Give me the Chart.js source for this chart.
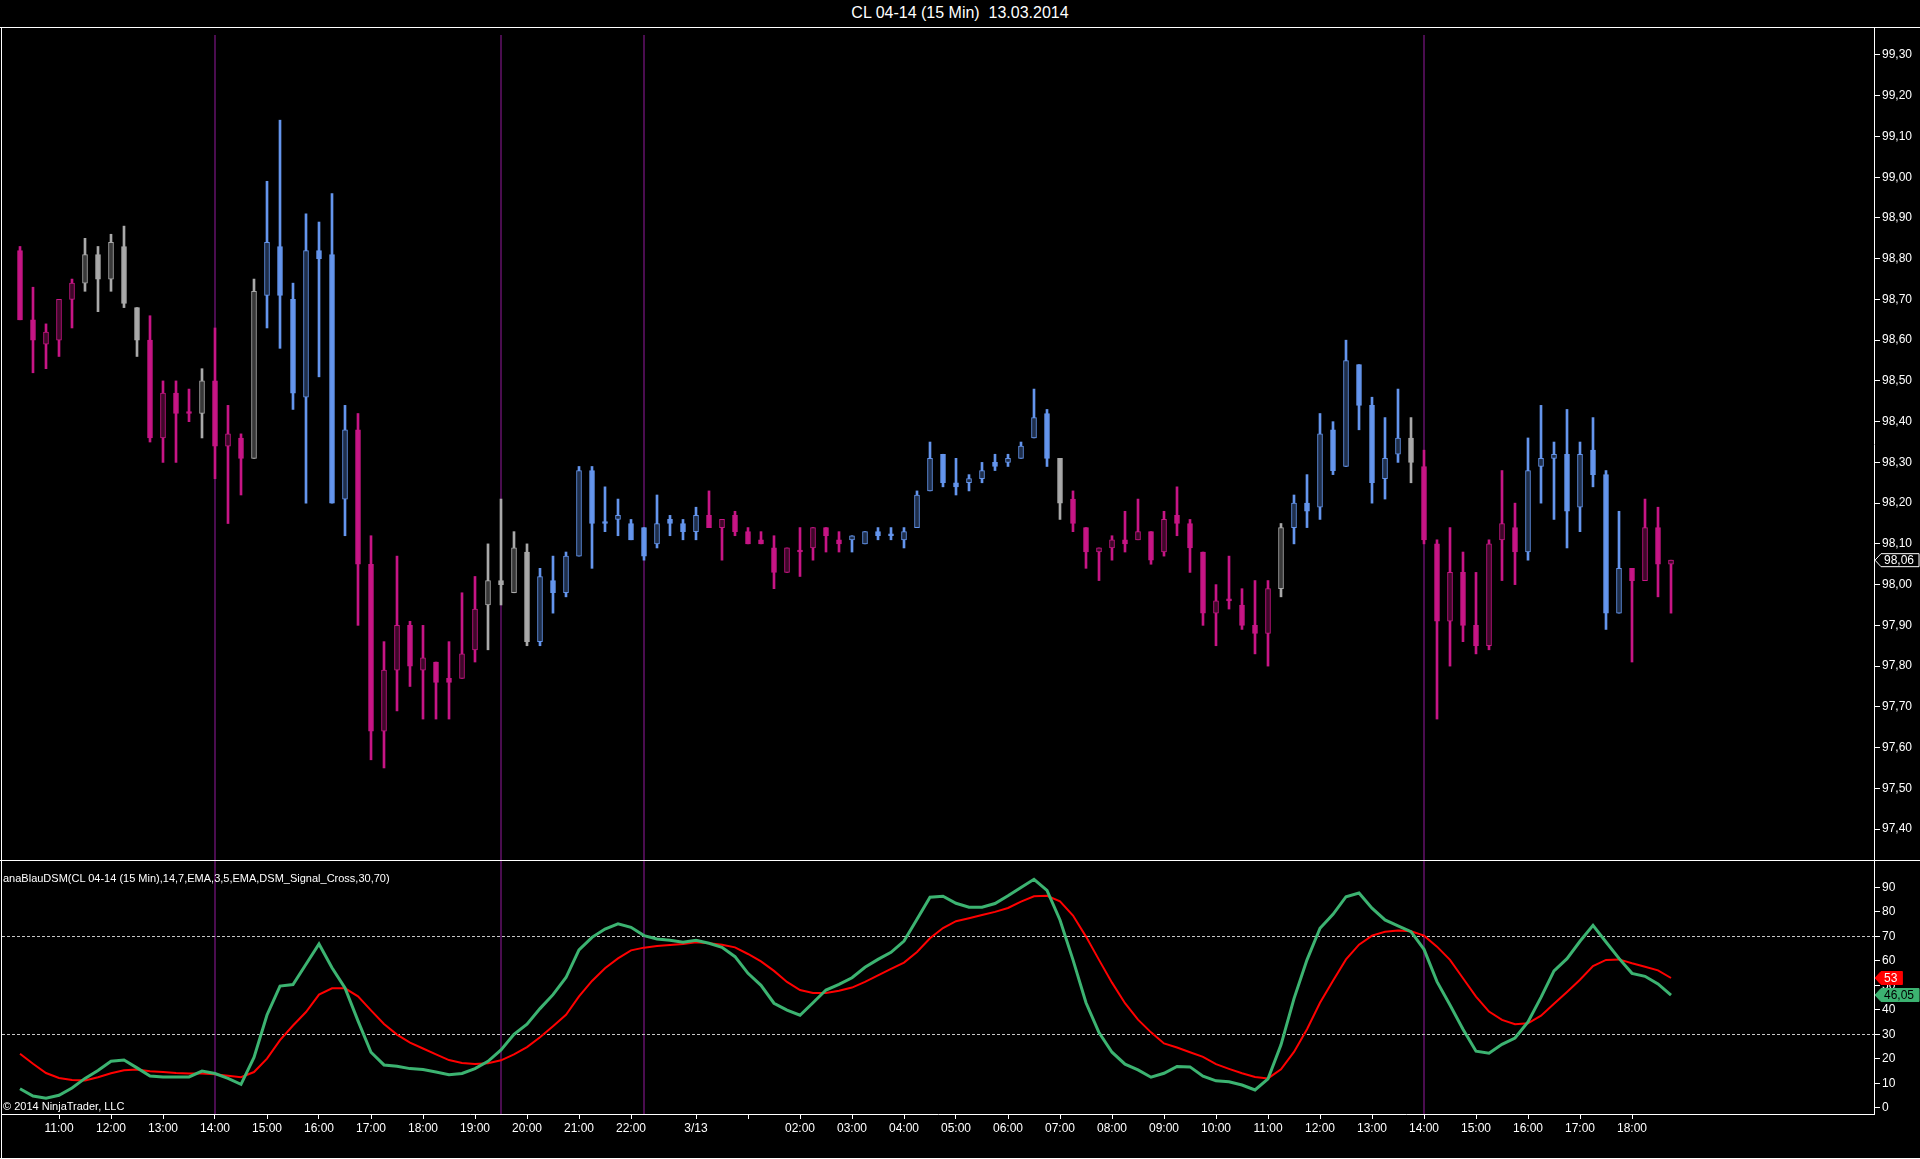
<!DOCTYPE html>
<html>
<head>
<meta charset="utf-8">
<title>CL 04-14 (15 Min) 13.03.2014</title>
<script src="https://cdn.jsdelivr.net/npm/chart.js@4.4.1/dist/chart.umd.min.js"></script>
<style>
  html, body { margin: 0; padding: 0; background: #000; width: 1920px; height: 1159px; overflow: hidden;
               font-family: "Liberation Sans", Arial, sans-serif; color: #fff; }
  #title { position: absolute; left: 0; top: 4px; width: 1920px; text-align: center; font-size: 16px; white-space: pre; }
  .hline { position: absolute; left: 0; width: 1920px; height: 1px; background: #fff; }
  .vline { position: absolute; width: 1px; background: #fff; }
  canvas { position: absolute; left: 0; }
  #priceCanvas { top: 28px; }
  #dsmCanvas { top: 861px; }
  .label { position: absolute; left: 3px; font-size: 11px; white-space: pre; }
</style>
</head>
<body>
<div id="title">CL 04-14 (15 Min)  13.03.2014</div>
<div class="hline" style="top:27px"></div>
<canvas id="priceCanvas" width="1920" height="832"></canvas>
<canvas id="dsmCanvas" width="1920" height="298"></canvas>
<div class="hline" style="top:860px"></div>
<div class="hline" style="top:1158px"></div>
<div class="vline" style="left:1px;top:27px;height:1132px"></div>
<div class="label" style="top:872px">anaBlauDSM(CL 04-14 (15 Min),14,7,EMA,3,5,EMA,DSM_Signal_Cross,30,70)</div>
<div class="label" style="top:1100px">© 2014 NinjaTrader, LLC</div>

<script>
// 15 minute bars, 12.03 10:15 -> 13.03 18:45
var open = [98.82,98.65,98.59,98.60,98.70,98.74,98.81,98.75,98.83,98.68,
            98.60,98.36,98.47,98.42,98.42,98.50,98.34,98.36,98.31,98.71,
            98.83,98.70,98.46,98.82,98.81,98.21,98.38,98.05,97.64,97.79,
            97.90,97.79,97.81,97.77,97.77,97.84,97.95,98.01,97.98,98.08,
            97.86,98.01,97.98,98.07,98.28,98.15,98.16,98.15,98.14,98.10,
            98.16,98.15,98.13,98.17,98.14,98.17,98.13,98.11,98.09,98.03,
            98.08,98.09,98.14,98.11,98.11,98.10,98.13,98.12,98.11,98.14,
            98.23,98.32,98.25,98.25,98.26,98.30,98.30,98.31,98.36,98.42,
            98.31,98.21,98.14,98.08,98.09,98.11,98.11,98.13,98.08,98.17,
            98.15,98.08,97.93,97.96,97.95,97.90,97.88,97.99,98.14,98.20,
            98.19,98.38,98.29,98.54,98.44,98.26,98.32,98.36,98.29,98.10,
            97.91,98.03,97.90,97.85,98.11,98.14,98.08,98.29,98.31,98.32,
            98.19,98.33,98.27,97.93,98.04,98.01,98.14,98.05];
var high = [98.83,98.73,98.64,98.70,98.75,98.85,98.83,98.86,98.88,98.68,
            98.66,98.50,98.50,98.48,98.53,98.63,98.44,98.37,98.75,98.99,
            99.14,98.74,98.91,98.89,98.96,98.44,98.42,98.12,97.86,98.07,
            97.91,97.90,97.81,97.86,97.98,98.02,98.10,98.21,98.13,98.10,
            98.04,98.07,98.08,98.29,98.29,98.24,98.21,98.16,98.14,98.22,
            98.17,98.16,98.19,98.23,98.16,98.18,98.14,98.13,98.12,98.09,
            98.14,98.14,98.14,98.13,98.12,98.13,98.14,98.14,98.14,98.23,
            98.35,98.32,98.31,98.27,98.30,98.32,98.32,98.35,98.48,98.43,
            98.31,98.23,98.14,98.09,98.12,98.18,98.21,98.13,98.18,98.24,
            98.16,98.08,98.00,98.07,97.99,98.01,98.01,98.15,98.22,98.27,
            98.42,98.40,98.60,98.54,98.46,98.41,98.48,98.41,98.33,98.11,
            98.14,98.08,98.03,98.11,98.28,98.20,98.36,98.44,98.35,98.43,
            98.35,98.41,98.28,98.18,98.04,98.21,98.19,98.06];
var low  = [98.65,98.52,98.53,98.56,98.63,98.72,98.67,98.72,98.68,98.56,
            98.35,98.30,98.30,98.40,98.36,98.26,98.15,98.22,98.31,98.63,
            98.58,98.43,98.20,98.51,98.20,98.12,97.90,97.57,97.55,97.69,
            97.75,97.67,97.67,97.67,97.77,97.81,97.84,97.95,97.98,97.85,
            97.85,97.93,97.97,98.07,98.04,98.13,98.12,98.11,98.06,98.09,
            98.12,98.11,98.11,98.14,98.06,98.12,98.10,98.10,97.99,98.03,
            98.02,98.06,98.08,98.08,98.08,98.10,98.11,98.11,98.09,98.14,
            98.23,98.24,98.22,98.23,98.25,98.28,98.29,98.31,98.36,98.29,
            98.16,98.13,98.04,98.01,98.06,98.08,98.11,98.05,98.07,98.12,
            98.03,97.90,97.85,97.94,97.89,97.83,97.80,97.97,98.10,98.14,
            98.16,98.27,98.29,98.38,98.20,98.21,98.30,98.25,98.10,97.67,
            97.80,97.86,97.83,97.84,98.01,98.00,98.06,98.20,98.16,98.09,
            98.13,98.24,97.89,97.93,97.81,98.01,97.97,97.93];
var close = [98.65,98.60,98.62,98.70,98.74,98.81,98.75,98.84,98.69,98.60,
             98.36,98.47,98.42,98.42,98.50,98.34,98.37,98.31,98.72,98.84,
             98.71,98.47,98.82,98.80,98.20,98.38,98.05,97.64,97.79,97.90,
             97.80,97.82,97.76,97.76,97.83,97.94,98.01,98.00,98.09,97.86,
             98.02,97.98,98.07,98.28,98.15,98.15,98.17,98.11,98.07,98.15,
             98.15,98.13,98.17,98.14,98.16,98.13,98.10,98.10,98.03,98.09,
             98.08,98.14,98.12,98.10,98.12,98.13,98.12,98.12,98.13,98.22,
             98.31,98.25,98.24,98.26,98.28,98.29,98.31,98.34,98.41,98.31,
             98.20,98.15,98.08,98.09,98.11,98.10,98.13,98.06,98.16,98.15,
             98.09,97.93,97.96,97.96,97.90,97.88,97.99,98.14,98.20,98.18,
             98.37,98.28,98.55,98.44,98.25,98.31,98.36,98.30,98.11,97.91,
             98.03,97.90,97.85,98.10,98.15,98.08,98.28,98.31,98.32,98.18,
             98.32,98.27,97.93,98.04,98.01,98.14,98.05,98.06];
// bar colouring state: m = down trend, g = neutral, b = up trend
var trend = ['m','m','m','m','m','g','g','g','g','g',
             'm','m','m','m','g','m','m','m','g','b',
             'b','b','b','b','b','b','m','m','m','m',
             'm','m','m','m','m','m','g','g','g','g',
             'b','b','b','b','b','b','b','b','b','b',
             'b','b','b','m','m','m','m','m','m','m',
             'm','m','m','m','b','b','b','b','b','b',
             'b','b','b','b','b','b','b','b','b','b',
             'g','m','m','m','m','m','m','m','m','m',
             'm','m','m','m','m','m','m','g','b','b',
             'b','b','b','b','b','b','b','g','m','m',
             'm','m','m','m','m','m','b','b','b','b',
             'b','b','b','b','m','m','m','m'];

// anaBlauDSM lines
var dsm = [7.8,4.8,3.9,5.1,8.1,12.0,15.2,19.0,19.5,16.3,
           13.0,12.6,12.6,12.6,15.0,14.0,12.0,9.6,20.6,37.9,
           49.7,50.3,58.6,66.9,57.2,48.9,35.5,22.7,17.5,17.0,
           16.0,15.6,14.6,13.5,14.0,16.0,19.0,23.6,30.0,34.1,
           40.5,46.2,53.2,64.5,69.6,73.0,75.1,73.7,70.3,68.9,
           68.4,67.6,68.4,67.2,65.5,61.7,54.9,50.0,42.7,39.9,
           37.8,42.9,48.1,50.4,53.1,57.4,60.6,63.5,68.1,77.0,
           86.0,86.4,83.5,81.9,81.9,83.4,86.6,90.0,93.3,88.8,
           76.7,60.4,42.9,30.7,22.7,17.8,15.5,12.5,14.1,16.9,
           16.7,12.9,11.0,10.6,9.3,7.3,11.8,25.7,44.6,60.4,
           73.3,79.0,86.2,87.7,81.5,76.7,74.3,71.9,64.7,51.5,
           42.0,32.1,23.1,22.3,25.9,28.5,35.1,45.1,55.9,60.9,
           68.0,74.5,67.7,61.0,54.9,53.7,50.6,46.05];
var signal = [22.1,18.0,14.2,12.2,11.4,11.2,12.5,14.1,15.3,15.6,
              14.9,14.6,14.2,14.0,14.0,13.7,13.1,12.5,14.6,20.1,
              27.6,33.6,39.1,46.2,48.8,48.8,45.5,39.8,34.2,29.9,
              26.6,24.2,21.8,19.5,18.3,17.9,18.2,19.4,21.8,24.8,
              28.8,33.3,38.0,45.5,51.8,57.0,61.0,64.3,65.4,66.1,
              66.5,66.9,67.6,67.2,66.6,65.5,62.8,59.8,55.9,51.4,
              48.1,46.9,46.9,47.8,49.1,51.4,54.1,56.7,59.3,63.6,
              69.2,73.4,76.2,77.4,78.7,80.0,81.6,84.2,86.4,86.6,
              84.3,78.5,69.9,60.4,51.1,42.7,36.0,30.8,26.3,24.6,
              22.7,20.8,17.8,15.9,14.1,12.6,12.0,15.7,22.8,32.1,
              42.9,51.9,60.6,66.6,70.3,71.9,72.4,72.1,70.3,65.8,
              60.4,52.9,45.4,39.3,35.9,34.1,34.5,37.6,42.5,47.3,
              52.3,57.9,60.4,60.6,59.0,57.6,56.1,53.0];

var tickIdx  = [3,7,11,15,19,23,27,31,35,39,43,47,52,56,60,64,68,72,76,80,84,88,92,96,100,104,108,112,116,120,124];
var tickText = ['11:00','12:00','13:00','14:00','15:00','16:00','17:00','18:00','19:00','20:00','21:00','22:00',
                '3/13','','02:00','03:00','04:00','05:00','06:00','07:00','08:00','09:00','10:00','11:00',
                '12:00','13:00','14:00','15:00','16:00','17:00','18:00'];
var priceTicks = [97.4,97.5,97.6,97.7,97.8,97.9,98.0,98.1,98.2,98.3,98.4,98.5,98.6,98.7,98.8,98.9,99.0,99.1,99.2,99.3];
var dsmTicks = [0,10,20,30,40,50,60,70,80,90];
var levels = [30, 70];
var markerIdx = [15, 37, 48, 108];

var barColor = { m: '#C71585', g: '#A9A9A9', b: '#6495ED' };
var hollowColor = { m: '#3e0829', g: '#383838', b: '#1f2e4a' };
var FONT = '"Liberation Sans", Arial, sans-serif';

// both panels share the same bar spacing: 13px per bar, first bar at x=20
var xMin = -18 / 13;
var xMax = xMin + 1872 / 13;

function fmt(v) {
    return Number.isInteger(v) ? String(v) : v.toFixed(2).replace('.', ',');
}

// keep the plot area edge to edge, the labels may overflow it
function noPadding(scale) {
    scale.paddingTop = 0;
    scale.paddingBottom = 0;
    scale.paddingLeft = 0;
    scale.paddingRight = 0;
}

var markerPlugin = {
    id: 'markers',
    beforeDatasetsDraw: function(chart, args, opts) {
        var ctx = chart.ctx, area = chart.chartArea, xs = chart.scales.x;
        ctx.save();
        ctx.strokeStyle = '#4a0d4f';
        ctx.lineWidth = 2;
        markerIdx.forEach(function(i) {
            var x = Math.round(xs.getPixelForValue(i));
            ctx.beginPath();
            ctx.moveTo(x, area.top + (opts.inset || 0));
            ctx.lineTo(x, area.bottom);
            ctx.stroke();
        });
        ctx.restore();
    }
};

// value box on the right axis, arrow pointing at the axis
function valueBox(ctx, x, y, text, fill, stroke, textColor) {
    ctx.save();
    ctx.font = '12px ' + FONT;
    var w = ctx.measureText(text).width + 8;
    ctx.beginPath();
    ctx.moveTo(x + 1, y);
    ctx.lineTo(x + 7, y - 6.5);
    ctx.lineTo(x + 7 + w, y - 6.5);
    ctx.lineTo(x + 7 + w, y + 6.5);
    ctx.lineTo(x + 7, y + 6.5);
    ctx.closePath();
    ctx.fillStyle = fill;
    ctx.fill();
    ctx.strokeStyle = stroke;
    ctx.lineWidth = 1;
    ctx.stroke();
    ctx.fillStyle = textColor;
    ctx.textBaseline = 'middle';
    ctx.fillText(text, x + 10, y + 1);
    ctx.restore();
}

var priceBoxPlugin = {
    id: 'priceBox',
    afterDraw: function(chart) {
        var last = close[close.length - 1];
        var y = chart.scales.y.getPixelForValue(last);
        valueBox(chart.ctx, chart.chartArea.right, y, fmt(last), '#000', '#fff', '#fff');
    }
};

var levelPlugin = {
    id: 'levels',
    beforeDatasetsDraw: function(chart) {
        var ctx = chart.ctx, area = chart.chartArea, ys = chart.scales.y;
        ctx.save();
        ctx.strokeStyle = '#c8c8c8';
        ctx.lineWidth = 1;
        ctx.setLineDash([3, 2]);
        levels.forEach(function(v) {
            var y = Math.round(ys.getPixelForValue(v)) + 0.5;
            ctx.beginPath();
            ctx.moveTo(area.left, y);
            ctx.lineTo(area.right, y);
            ctx.stroke();
        });
        ctx.restore();
    }
};

var dsmBoxPlugin = {
    id: 'dsmBox',
    afterDraw: function(chart) {
        var ys = chart.scales.y, x = chart.chartArea.right;
        var s = signal[signal.length - 1], d = dsm[dsm.length - 1];
        valueBox(chart.ctx, x, ys.getPixelForValue(s), fmt(s), '#ff0000', '#ff0000', '#fff');
        valueBox(chart.ctx, x, ys.getPixelForValue(d), fmt(d), '#3CB371', '#3CB371', '#000');
    }
};

function rightAxis(min, max, ticks, labelFmt) {
    return {
        position: 'right',
        min: min,
        max: max,
        bounds: 'data',
        afterFit: function(scale) { scale.width = 46; noPadding(scale); },
        afterBuildTicks: function(scale) {
            scale.ticks = ticks.map(function(v) { return { value: v }; });
        },
        grid: { drawOnChartArea: false, tickLength: 6, color: '#fff' },
        border: { display: true, color: '#fff', width: 1 },
        ticks: {
            color: '#fff',
            padding: 2,
            font: { family: FONT, size: 12 },
            callback: labelFmt
        }
    };
}

Chart.defaults.font.family = FONT;

var wickData = open.map(function(o, i) { return { x: i, y: [low[i], high[i]] }; });
var bodyData = open.map(function(o, i) { return { x: i, y: [o, close[i]] }; });

new Chart(document.getElementById('priceCanvas'), {
    type: 'bar',
    data: {
        datasets: [
            {
                label: 'body',
                data: bodyData,
                order: 1,
                grouped: false,
                barThickness: 5,
                minBarLength: 2,
                borderWidth: 1,
                borderSkipped: false,
                borderColor: function(c) { return barColor[trend[c.dataIndex]]; },
                backgroundColor: function(c) {
                    var i = c.dataIndex;
                    return close[i] > open[i] ? hollowColor[trend[i]] : barColor[trend[i]];
                }
            },
            {
                label: 'wick',
                data: wickData,
                order: 2,
                grouped: false,
                barThickness: 2,
                borderWidth: 0,
                backgroundColor: function(c) { return barColor[trend[c.dataIndex]]; }
            }
        ]
    },
    options: {
        responsive: false,
        animation: false,
        devicePixelRatio: 1,
        layout: { autoPadding: false, padding: { left: 2, right: 0, top: 0, bottom: 0 } },
        plugins: { legend: { display: false }, tooltip: { enabled: false }, markers: { inset: 7 } },
        scales: {
            x: { type: 'linear', min: xMin, max: xMax, offset: false, display: false },
            y: rightAxis(99.30 - 805 / 407.4, 99.30 + 27 / 407.4, priceTicks, function(v) { return v.toFixed(2).replace('.', ','); })
        }
    },
    plugins: [markerPlugin, priceBoxPlugin]
});

new Chart(document.getElementById('dsmCanvas'), {
    type: 'line',
    data: {
        datasets: [
            {
                label: 'DSM',
                data: dsm.map(function(v, i) { return { x: i, y: v }; }),
                order: 1,
                borderColor: '#3CB371',
                borderWidth: 3,
                pointRadius: 0,
                tension: 0
            },
            {
                label: 'Signal',
                data: signal.map(function(v, i) { return { x: i, y: v }; }),
                order: 2,
                borderColor: '#ff0000',
                borderWidth: 2,
                pointRadius: 0,
                tension: 0
            }
        ]
    },
    options: {
        responsive: false,
        animation: false,
        devicePixelRatio: 1,
        layout: { autoPadding: false, padding: { left: 2, right: 0, top: 0, bottom: 0 } },
        plugins: { legend: { display: false }, tooltip: { enabled: false } },
        scales: {
            x: {
                type: 'linear',
                min: xMin,
                max: xMax,
                offset: false,
                bounds: 'data',
                afterFit: function(scale) { scale.height = 45; noPadding(scale); },
                afterBuildTicks: function(scale) {
                    scale.ticks = tickIdx.map(function(v) { return { value: v }; });
                },
                grid: { drawOnChartArea: false, tickLength: 5, color: '#fff' },
                border: { display: true, color: '#fff', width: 1 },
                ticks: {
                    color: '#fff',
                    padding: 2,
                    autoSkip: false,
                    maxRotation: 0,
                    font: { family: FONT, size: 12 },
                    callback: function(v, i) { return tickText[i]; }
                }
            },
            y: rightAxis((1107.8 - 1114) / 2.449, (1107.8 - 861) / 2.449, dsmTicks, function(v) { return String(v); })
        }
    },
    plugins: [markerPlugin, levelPlugin, dsmBoxPlugin]
});
</script>
</body>
</html>
